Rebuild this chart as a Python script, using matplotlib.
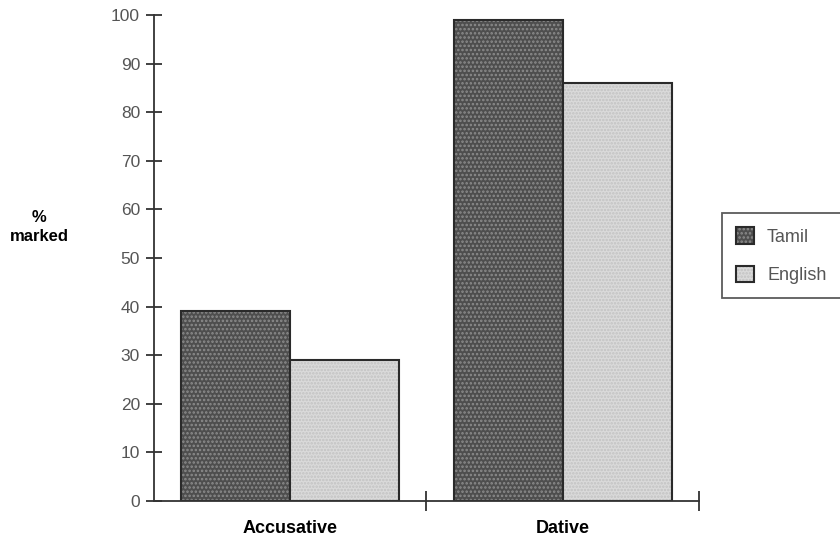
import numpy as np
import matplotlib
matplotlib.use("Agg")
import matplotlib.pyplot as plt
from matplotlib.ticker import FixedLocator

plt.rcParams['font.family'] = ['Liberation Sans', 'DejaVu Sans']
plt.rcParams['hatch.linewidth'] = 1.2

# data
cases = ["Accusative", "Dative"]
tamil = [39, 99]
english = [29, 86]
yticks = [0, 10, 20, 30, 40, 50, 60, 70, 80, 90, 100]

fig = plt.figure(figsize=(8.4, 5.38), dpi=100)
ax = fig.add_axes([0.1833, 0.0688, 0.6488, 0.9033])

x = np.arange(len(cases))
w = 0.4
b1 = ax.bar(x - w / 2, tamil, w, facecolor='#4e4e4e', edgecolor='#2a2a2a',
            linewidth=1.5, hatch='....', label='Tamil')
b2 = ax.bar(x + w / 2, english, w, facecolor='#dadada', edgecolor='#2a2a2a',
            linewidth=1.5, hatch='.....', label='English')
# hatch colours per series
for p in b1:
    p._hatch_color = matplotlib.colors.to_rgba('#8c8c8c')
for p in b2:
    p._hatch_color = matplotlib.colors.to_rgba('#c2c2c2')

ax.set_xlim(-0.5, 1.5)
ax.set_ylim(0, 100)
ax.spines['top'].set_visible(False)
ax.spines['right'].set_visible(False)
for s in ['left', 'bottom']:
    ax.spines[s].set_color('#333333')
    ax.spines[s].set_linewidth(1.3)

ax.yaxis.set_major_locator(FixedLocator(yticks))
ax.tick_params(axis='y', direction='inout', length=12, width=1.3,
               color='#333333', labelsize=12.5, labelcolor='#555555', pad=4)
ax.set_xticks(x)
ax.set_xticklabels(cases, fontweight='bold', fontsize=13)
ax.tick_params(axis='x', which='major', length=0, pad=14)
ax.xaxis.set_minor_locator(FixedLocator([0.5, 1.5]))
ax.tick_params(axis='x', which='minor', direction='inout', length=14,
               width=1.3, color='#333333')

fig.text(0.047, 0.578, "%\nmarked", ha='center', va='center',
         fontweight='bold', fontsize=12, linespacing=1.35)

leg = fig.legend(handles=[b1, b2], labels=['Tamil', 'English'],
                 loc='upper left', bbox_to_anchor=(0.8595, 0.604),
                 frameon=True, fancybox=False, fontsize=13,
                 handlelength=1.0, handleheight=1.0, borderpad=0.8,
                 labelspacing=1.1, handletextpad=0.7, borderaxespad=0)
leg.get_frame().set_edgecolor('#333333')
leg.get_frame().set_linewidth(1.3)
for t in leg.get_texts():
    t.set_color('#555555')

fig.savefig("out.png", dpi=100)
